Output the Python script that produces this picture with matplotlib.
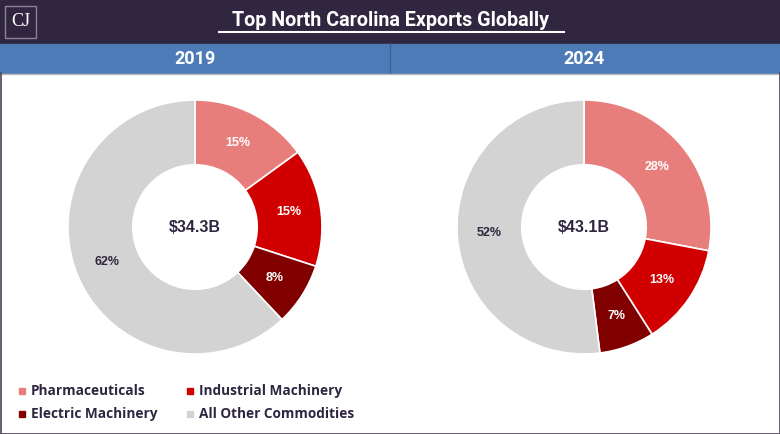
import numpy as np
import matplotlib.pyplot as plt
from matplotlib.patches import Rectangle

# data
categories = ["Pharmaceuticals", "Industrial Machinery", "Electric Machinery", "All Other Commodities"]
years = ["2019", "2024"]
shares_2019 = [15, 15, 8, 62]
shares_2024 = [28, 13, 7, 52]
totals = ["$34.3B", "$43.1B"]

colors = ["#e77e7c", "#d10000", "#800000", "#d3d3d3"]
label_colors = ["white", "white", "white", "#2e2640"]
dark = "#2e2640"
body_font = ["Open Sans", "DejaVu Sans"]
label_font = ["Liberation Sans", "DejaVu Sans"]
title_font = ["Liberation Sans Narrow", "Roboto", "DejaVu Sans"]
W, H = 780, 434

fig = plt.figure(figsize=(7.8, 4.34), dpi=100)
bg = fig.add_axes([0, 0, 1, 1])
bg.set_xlim(0, W)
bg.set_ylim(H, 0)
bg.axis("off")

# header bands
bg.add_patch(Rectangle((0, 0), W, 44, color="#30263f"))
bg.add_patch(Rectangle((0, 44), W, 29, color="#4d7bb8"))
bg.plot([390, 390], [44, 73], color="#3d5f92", lw=1)
bg.plot([0, W], [73.5, 73.5], color="#bbbbbb", lw=1)
# frame
bg.plot([0.5, 0.5, W - 0.5, W - 0.5], [73, H - 0.5, H - 0.5, 73], color="#4a4458", lw=1.2)

# logo
bg.add_patch(Rectangle((5, 6), 31, 32, fill=False, ec="#8a8496", lw=1))
bg.text(20.5, 22, "CJ", color="white", fontsize=13, family="Liberation Serif",
        ha="center", va="center")

# title
bg.text(391, 20, "Top North Carolina Exports Globally", color="white", fontsize=14.2,
        fontweight="bold", family=title_font, ha="center", va="center")
bg.plot([219, 564], [32, 32], color="white", lw=1.5)

for i, yr in enumerate(years):
    bg.text(195 + 389 * i, 59, yr, color="white", fontsize=13, fontweight="bold",
            family=title_font, ha="center", va="center")

# donuts
radius_px = 127
for i, (shares, total) in enumerate(zip([shares_2019, shares_2024], totals)):
    cx, cy = 195 + 389 * i, 227
    ax = fig.add_axes([(cx - radius_px) / W, 1 - (cy + radius_px) / H,
                       2 * radius_px / W, 2 * radius_px / H])
    ax.pie(shares, colors=colors, startangle=90, counterclock=False, radius=1,
           wedgeprops=dict(width=0.51, edgecolor="white", linewidth=1.2))
    ax.set_xlim(-1, 1)
    ax.set_ylim(-1, 1)
    ax.set_aspect("auto")
    cum = np.cumsum([0] + shares)
    for j, s in enumerate(shares):
        mid = 90 - 360 * (cum[j] + s / 2) / 100
        r = 0.745
        ax.text(r * np.cos(np.radians(mid)), r * np.sin(np.radians(mid)), f"{s}%",
                color=label_colors[j], fontsize=9, fontweight="bold", family=label_font,
                ha="center", va="center")
    ax.text(0, 0, total, color=dark, fontsize=11.5, fontweight="bold", family=label_font,
            ha="center", va="center")

# legend
legend_pos = [(22, 391), (190, 391), (22, 414), (190, 414)]
for (x, y), c, name in zip(legend_pos, colors, categories):
    bg.add_patch(Rectangle((x - 3, y - 3), 6, 6, color=c))
    bg.text(x + 9, y, name, color=dark, fontsize=9.8, fontweight="bold", family=body_font,
            ha="left", va="center")

fig.savefig("out.png", dpi=100)
